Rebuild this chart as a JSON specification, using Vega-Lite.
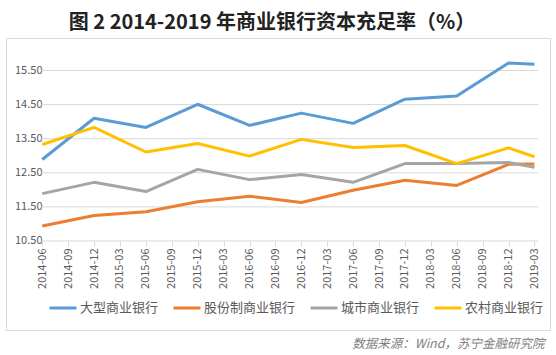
{
  "$schema": "https://vega.github.io/schema/vega-lite/v6.json",
  "autosize": "none",
  "width": 544,
  "height": 292,
  "padding": {"left": 6, "top": 38, "right": 6, "bottom": 25},
  "background": "white",
  "config": {
    "font": "Noto Sans CJK SC",
    "view": {"stroke": "#d9d9d9", "strokeWidth": 1}
  },
  "title": {
    "text": "图 2 2014-2019 年商业银行资本充足率（%）",
    "fontSize": 20,
    "fontWeight": "bold",
    "color": "#222222",
    "anchor": "middle",
    "offset": 12,
    "dx": -6,
    "dy": 23,
    "baseline": "alphabetic"
  },
  "data": {
    "values": [
      {"bank": "大型商业银行", "date": "2014-06", "car": 12.89},
      {"bank": "大型商业银行", "date": "2014-12", "car": 14.10},
      {"bank": "大型商业银行", "date": "2015-06", "car": 13.83},
      {"bank": "大型商业银行", "date": "2015-12", "car": 14.51},
      {"bank": "大型商业银行", "date": "2016-06", "car": 13.89},
      {"bank": "大型商业银行", "date": "2016-12", "car": 14.25},
      {"bank": "大型商业银行", "date": "2017-06", "car": 13.95},
      {"bank": "大型商业银行", "date": "2017-12", "car": 14.66},
      {"bank": "大型商业银行", "date": "2018-06", "car": 14.75},
      {"bank": "大型商业银行", "date": "2018-12", "car": 15.72},
      {"bank": "大型商业银行", "date": "2019-03", "car": 15.68},
      {"bank": "股份制商业银行", "date": "2014-06", "car": 10.94},
      {"bank": "股份制商业银行", "date": "2014-12", "car": 11.25},
      {"bank": "股份制商业银行", "date": "2015-06", "car": 11.36},
      {"bank": "股份制商业银行", "date": "2015-12", "car": 11.65},
      {"bank": "股份制商业银行", "date": "2016-06", "car": 11.81},
      {"bank": "股份制商业银行", "date": "2016-12", "car": 11.63},
      {"bank": "股份制商业银行", "date": "2017-06", "car": 11.99},
      {"bank": "股份制商业银行", "date": "2017-12", "car": 12.28},
      {"bank": "股份制商业银行", "date": "2018-06", "car": 12.13},
      {"bank": "股份制商业银行", "date": "2018-12", "car": 12.75},
      {"bank": "股份制商业银行", "date": "2019-03", "car": 12.76},
      {"bank": "城市商业银行", "date": "2014-06", "car": 11.89},
      {"bank": "城市商业银行", "date": "2014-12", "car": 12.22},
      {"bank": "城市商业银行", "date": "2015-06", "car": 11.95},
      {"bank": "城市商业银行", "date": "2015-12", "car": 12.60},
      {"bank": "城市商业银行", "date": "2016-06", "car": 12.30},
      {"bank": "城市商业银行", "date": "2016-12", "car": 12.45},
      {"bank": "城市商业银行", "date": "2017-06", "car": 12.22},
      {"bank": "城市商业银行", "date": "2017-12", "car": 12.77},
      {"bank": "城市商业银行", "date": "2018-06", "car": 12.77},
      {"bank": "城市商业银行", "date": "2018-12", "car": 12.80},
      {"bank": "城市商业银行", "date": "2019-03", "car": 12.66},
      {"bank": "农村商业银行", "date": "2014-06", "car": 13.33},
      {"bank": "农村商业银行", "date": "2014-12", "car": 13.83},
      {"bank": "农村商业银行", "date": "2015-06", "car": 13.11},
      {"bank": "农村商业银行", "date": "2015-12", "car": 13.36},
      {"bank": "农村商业银行", "date": "2016-06", "car": 12.99},
      {"bank": "农村商业银行", "date": "2016-12", "car": 13.48},
      {"bank": "农村商业银行", "date": "2017-06", "car": 13.24},
      {"bank": "农村商业银行", "date": "2017-12", "car": 13.30},
      {"bank": "农村商业银行", "date": "2018-06", "car": 12.77},
      {"bank": "农村商业银行", "date": "2018-12", "car": 13.23},
      {"bank": "农村商业银行", "date": "2019-03", "car": 12.97}
    ]
  },
  "layer": [
    {
      "data": {"values": [{}]},
      "mark": {"type": "rule", "color": "#d9d9d9", "strokeWidth": 1, "xOffset": -2, "x2Offset": 4},
      "encoding": {
        "x": {"datum": "2014-06", "type": "ordinal"},
        "x2": {"datum": "2019-03"},
        "y": {"datum": 10.5, "type": "quantitative"}
      }
    },
    {
      "data": {"values": [{}]},
      "mark": {"type": "rule", "color": "#d9d9d9", "strokeWidth": 1, "xOffset": -2, "x2Offset": 4},
      "encoding": {
        "x": {"datum": "2014-06", "type": "ordinal"},
        "x2": {"datum": "2019-03"},
        "y": {"datum": 11.5, "type": "quantitative"}
      }
    },
    {
      "data": {"values": [{}]},
      "mark": {"type": "rule", "color": "#d9d9d9", "strokeWidth": 1, "xOffset": -2, "x2Offset": 4},
      "encoding": {
        "x": {"datum": "2014-06", "type": "ordinal"},
        "x2": {"datum": "2019-03"},
        "y": {"datum": 12.5, "type": "quantitative"}
      }
    },
    {
      "data": {"values": [{}]},
      "mark": {"type": "rule", "color": "#d9d9d9", "strokeWidth": 1, "xOffset": -2, "x2Offset": 4},
      "encoding": {
        "x": {"datum": "2014-06", "type": "ordinal"},
        "x2": {"datum": "2019-03"},
        "y": {"datum": 13.5, "type": "quantitative"}
      }
    },
    {
      "data": {"values": [{}]},
      "mark": {"type": "rule", "color": "#d9d9d9", "strokeWidth": 1, "xOffset": -2, "x2Offset": 4},
      "encoding": {
        "x": {"datum": "2014-06", "type": "ordinal"},
        "x2": {"datum": "2019-03"},
        "y": {"datum": 14.5, "type": "quantitative"}
      }
    },
    {
      "data": {"values": [{}]},
      "mark": {"type": "rule", "color": "#d9d9d9", "strokeWidth": 1, "xOffset": -2, "x2Offset": 4},
      "encoding": {
        "x": {"datum": "2014-06", "type": "ordinal"},
        "x2": {"datum": "2019-03"},
        "y": {"datum": 15.5, "type": "quantitative"}
      }
    },
    {
      "mark": {"type": "line", "strokeWidth": 3, "strokeJoin": "round"},
      "encoding": {
        "x": {
          "field": "date",
          "type": "ordinal",
          "scale": {
            "type": "point",
            "domain": ["2014-06", "2014-09", "2014-12", "2015-03", "2015-06", "2015-09", "2015-12", "2016-03", "2016-06", "2016-09", "2016-12", "2017-03", "2017-06", "2017-09", "2017-12", "2018-03", "2018-06", "2018-09", "2018-12", "2019-03"],
            "padding": 1.512,
            "align": 0.7
          },
          "axis": {
            "title": "数据来源：Wind，苏宁金融研究院",
            "titleX": 538,
            "titleY": 102,
            "titleAlign": "right",
            "titleBaseline": "middle",
            "titleFontStyle": "italic",
            "titleFontWeight": "normal",
            "titleFontSize": 12.5,
            "titleColor": "#7f7f7f",
            "offset": -89,
            "domain": false,
            "ticks": true,
            "tickSize": 5,
            "tickColor": "#d9d9d9",
            "labelAngle": 270,
            "labelAlign": "right",
            "labelBaseline": "middle",
            "labelPadding": 2,
            "labelFontSize": 11,
            "labelColor": "#595959",
            "labelOverlap": false,
            "grid": false
          }
        },
        "y": {
          "field": "car",
          "type": "quantitative",
          "scale": {"domain": [7.89, 16.453], "nice": false, "zero": false},
          "axis": {
            "title": null,
            "values": [10.5, 11.5, 12.5, 13.5, 14.5, 15.5],
            "format": ".2f",
            "offset": -50,
            "domain": false,
            "ticks": false,
            "tickSize": 0,
            "labelPadding": 14,
            "labelFontSize": 11,
            "labelColor": "#595959",
            "grid": false
          }
        },
        "color": {
          "field": "bank",
          "type": "nominal",
          "scale": {
            "domain": ["大型商业银行", "股份制商业银行", "城市商业银行", "农村商业银行"],
            "range": ["#5b9bd5", "#ed7d31", "#a5a5a5", "#ffc000"]
          },
          "legend": {
            "title": null,
            "orient": "none",
            "legendX": 42,
            "legendY": 255,
            "direction": "horizontal",
            "symbolType": "stroke",
            "symbolStrokeWidth": 3,
            "symbolSize": 729,
            "labelFontSize": 13,
            "labelColor": "#595959",
            "labelOffset": 2,
            "columnPadding": 8,
            "padding": 0,
            "labelLimit": 300
          }
        }
      }
    }
  ]
}
